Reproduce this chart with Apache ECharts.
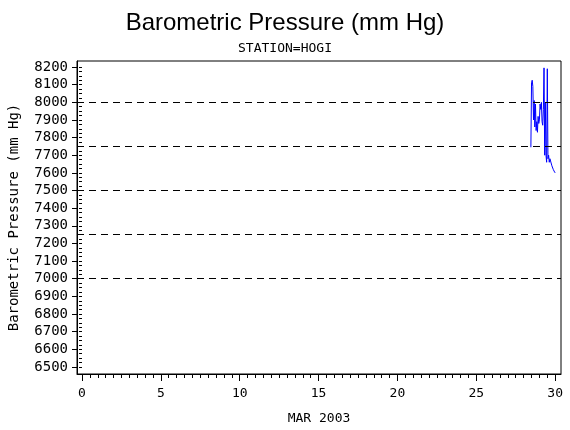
<!DOCTYPE html>
<html>
<head>
<meta charset="utf-8">
<script src="https://cdn.jsdelivr.net/npm/echarts@6/dist/echarts.min.js"></script>
<style>html,body{margin:0;padding:0;background:#fff}#c{width:570px;height:430px}</style>
</head>
<body>
<div id="c"></div>
<script>
// ---- data ----
const titleText = 'Barometric Pressure (mm Hg)';
const subTitle = 'STATION=HOGI';
const xName = 'MAR 2003';
const yName = 'Barometric Pressure (mm Hg)';
const xTicks = [0, 5, 10, 15, 20, 25, 30];
const yTicks = [6500, 6600, 6700, 6800, 6900, 7000, 7100, 7200, 7300, 7400, 7500, 7600, 7700, 7800, 7900, 8000, 8100, 8200];
const refLines = [8000, 7750, 7500, 7250, 7000];
const startDay = 28.46;           // first hourly reading (day of month)
const pressure = [7745, 8110, 8125, 8090, 7900, 8010, 7860, 7990, 7840, 7890, 7830, 7920, 7880, 7900,
  7990, 7960, 8000, 7890, 7870, 7960, 8195, 7700, 8000, 7700, 7660, 8190, 7680, 7700, 7660, 7680,
  7690, 7670, 7640, 7630, 7620, 7610, 7605, 7600];

// ---- build ----
const seriesData = pressure.map((v, i) => [startDay + i / 24, v]);
const xMinor = []; for (let v = 0; v <= 30; v += 0.5) xMinor.push(v);
const yMinor = []; for (let v = 6500; v <= 8200; v += 25) yMinor.push(v);
const FONT = 'DejaVu Sans Mono';
const xMin = -0.317, xMax = 30.37, yMin = 6460, yMax = 8234;

const chart = echarts.init(document.getElementById('c'), null, {renderer: 'canvas'});
chart.setOption({
  animation: false,
  backgroundColor: '#fff',
  title: [
    {text: titleText, left: 'center', top: 6, textStyle: {fontFamily: 'Liberation Sans', fontSize: 24, fontWeight: 'normal', color: '#000'}},
    {text: subTitle, left: 'center', top: 37, textStyle: {fontFamily: FONT, fontSize: 13, fontWeight: 'normal', color: '#000'}}
  ],
  grid: {left: 77, right: 9, top: 61, bottom: 56, show: true, borderColor: '#000', borderWidth: 1,
    containLabel: false, outerBoundsMode: 'none'},
  xAxis: [
    {type: 'value', min: xMin, max: xMax, position: 'bottom',
      axisLine: {show: true, onZero: false, lineStyle: {color: '#000', width: 1}},
      axisTick: {show: true, customValues: xTicks, length: 7, lineStyle: {color: '#000'}},
      axisLabel: {show: true, customValues: xTicks, margin: 13, fontFamily: FONT, fontSize: 13, color: '#000'},
      splitLine: {show: false},
      name: xName, nameLocation: 'middle', nameGap: 38,
      nameTextStyle: {fontFamily: FONT, fontSize: 13, color: '#000'}},
    {type: 'value', min: xMin, max: xMax, position: 'bottom', offset: 0,
      axisLine: {show: false},
      axisTick: {show: true, customValues: xMinor, length: 4, lineStyle: {color: '#000'}},
      axisLabel: {show: false}, splitLine: {show: false}}
  ],
  yAxis: [
    {type: 'value', min: yMin, max: yMax, position: 'left',
      axisLine: {show: true, onZero: false, lineStyle: {color: '#000', width: 1}},
      axisTick: {show: true, customValues: yTicks, length: 5, lineStyle: {color: '#000'}},
      axisLabel: {show: true, customValues: yTicks, margin: 9, fontFamily: FONT, fontSize: 14, color: '#000',
        formatter: v => String(v)},
      splitLine: {show: false},
      name: yName, nameLocation: 'middle', nameGap: 56,
      nameTextStyle: {fontFamily: FONT, fontSize: 14, color: '#000'}},
    {type: 'value', min: yMin, max: yMax, position: 'left', offset: 0,
      axisLine: {show: false},
      axisTick: {show: true, customValues: yMinor, length: 3, lineStyle: {color: '#000'}},
      axisLabel: {show: false}, splitLine: {show: false}}
  ],
  series: [{
    type: 'line', xAxisIndex: 0, yAxisIndex: 0, data: seriesData, showSymbol: false, symbol: 'none',
    lineStyle: {color: '#0000ff', width: 1}, itemStyle: {color: '#0000ff'},
    markLine: {silent: true, symbol: ['none', 'none'], label: {show: false},
      lineStyle: {color: '#000', width: 1, type: [7, 5]},
      data: refLines.map(v => ({yAxis: v}))}
  }]
});
</script>
</body>
</html>
